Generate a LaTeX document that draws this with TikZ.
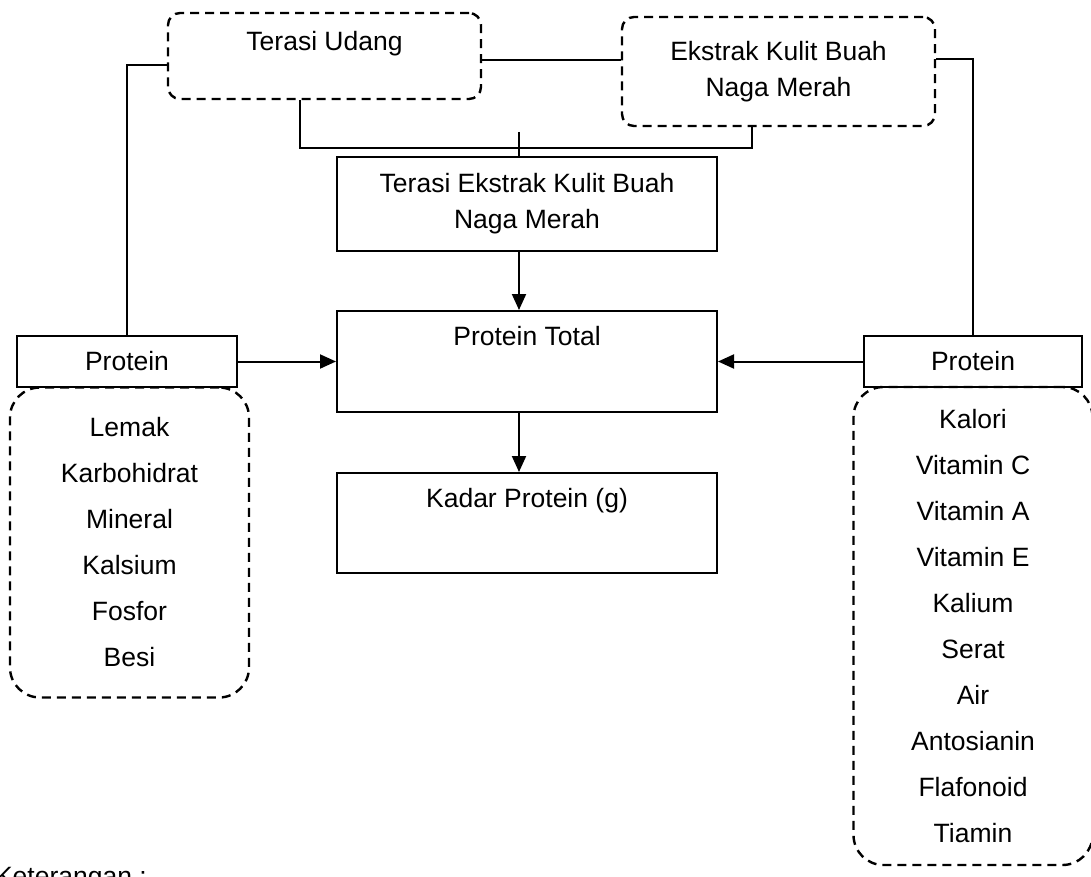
\documentclass[tikz,border=0pt]{standalone}
\usepackage{fontspec}
\setmainfont{Liberation Sans}
\usetikzlibrary{positioning,arrows.meta}

\begin{document}
\begin{tikzpicture}[x=1pt,y=-1pt,-{Triangle[length=16pt,width=14pt]},
node distance =1cm and 4cm ,on grid ,
line width=2pt ,
every node/.style={font=\fontsize{26.5}{36}\selectfont},
kotak/.style={rectangle,draw,minimum width=380pt,inner sep=0pt},
awan/.style={rectangle,draw,line width=2.4pt,dash pattern=on 9pt off 6pt,
  rounded corners=12pt,inner sep=0pt},
daftar/.style={awan,rounded corners=30pt,minimum width=239pt,align=center,
  font=\fontsize{26.5}{46}\selectfont},
kecil/.style={rectangle,draw,minimum height=51pt,inner sep=0pt}
]
\useasboundingbox (0,0) rectangle (1091,877);
\node[kotak,minimum height=94pt,align=center] (Kcampur) at (527,204)
    {Terasi Ekstrak Kulit Buah\\Naga Merah};
\node[kotak,minimum height=101pt,
    label={[anchor=base,yshift=-35pt]north:Protein Total}] (Ktotal)
    [below = 157.5pt of Kcampur] {};
\node[kotak,minimum height=100pt,
    label={[anchor=base,yshift=-35pt]north:Kadar Protein (g)}] (Kkadar)
    [below = 161.5pt of Ktotal] {};
\node[awan,minimum width=313pt,minimum height=86pt,
    label={[anchor=base,yshift=-38.5pt]north:Terasi Udang}] (Kterasi)
    [above left = 148pt and 202.5pt of Kcampur] {};
\node[awan,minimum width=313pt,minimum height=109pt,align=center] (Kekstrak)
    [above right = 132.5pt and 251.5pt of Kcampur] {Ekstrak Kulit Buah\\Naga Merah};
\node[kecil,minimum width=220pt] (Pkiri) [left = 400pt of Ktotal] {Protein};
\node[kecil,minimum width=218pt] (Pkanan) [right = 446pt of Ktotal] {Protein};
\node[daftar,minimum height=310pt] (Lkiri) [below right = 181pt and 2.5pt of Pkiri]
    {Lemak\\Karbohidrat\\Mineral\\Kalsium\\Fosfor\\Besi};
\node[daftar,minimum height=478pt] (Lkanan) [below = 264.5pt of Pkanan]
    {Kalori\\Vitamin C\\Vitamin A\\Vitamin E\\Kalium\\Serat\\Air\\Antosianin\\Flafonoid\\Tiamin};
\node[anchor=base west,inner sep=0pt] (Ket) at (-6,885.5) {Keterangan :};
% garis penghubung
\coordinate (jT) at ([yshift=-4pt]Kterasi.east);
\coordinate (jB) at (519,148);
\coordinate (jA) at (519,132);
\draw[-] (jT) -- (jT -| Kekstrak.west);
\draw[-] ([yshift=-9pt]Kterasi.west) -| (Pkiri.north);
\draw[-] ([yshift=12.5pt]Kekstrak.east) -| (Pkanan.north);
\draw[-] ([xshift=-24.5pt]Kterasi.south) |- (jB) -| ([xshift=-26.5pt]Kekstrak.south);
\draw[-] (jA) -- ([xshift=-8pt]Kcampur.north);
\draw ([xshift=-8pt]Kcampur.south) -- ([xshift=-8pt]Ktotal.north);
\draw ([xshift=-8pt]Ktotal.south) -- ([xshift=-8pt]Kkadar.north);
\draw (Pkiri.east) -- (Pkiri.east -| Ktotal.west);
\draw (Pkanan.west) -- (Pkanan.west -| Ktotal.east);
\end{tikzpicture}
\end{document}
